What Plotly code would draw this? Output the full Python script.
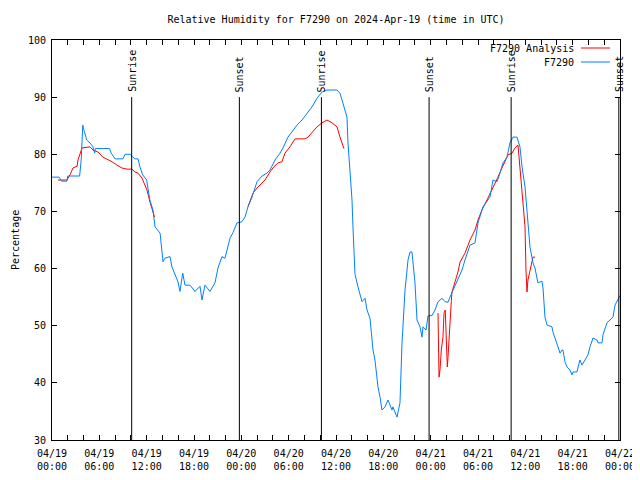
import pandas as pd
import plotly.graph_objects as go

START = pd.Timestamp("2024-04-19 00:00")

# Observed station series (hours since 04/19 00:00 UTC, relative humidity %)
obs_hours = [0.0, 0.9, 1.2, 1.9, 2.0, 3.5, 3.7, 3.9, 4.1, 4.4, 4.8, 5.2, 5.4, 5.5, 7.3, 7.5, 8.0, 9.0,
             9.25, 9.9, 10.2, 10.5, 10.9, 11.15, 11.5, 12.0, 12.2, 12.4, 12.8, 13.06, 13.7, 13.94, 14.07,
             14.3, 14.96, 15.2, 15.6, 15.97, 16.22, 16.57, 16.86, 17.49, 18.13, 18.76, 19.01, 19.39,
             20.03, 20.66, 21.04, 21.55, 21.93, 22.18, 22.56, 22.94, 23.45, 23.83, 24.08, 24.46, 24.84,
             25.35, 25.73, 25.99, 26.62, 27.25, 27.63, 28.27, 28.9, 29.28, 29.91, 30.55, 31.06, 31.69,
             32.32, 32.96, 33.59, 34.22, 34.86, 36.13, 36.51, 36.89, 37.39, 37.52, 37.77, 38.03, 38.15,
             38.41, 38.79, 39.3, 39.68, 39.93, 40.31, 40.56, 40.69, 40.94, 41.2, 41.32, 41.58, 41.83,
             42.21, 42.59, 43.1, 43.22, 43.73, 44.11, 44.37, 44.75, 45.13, 45.38, 45.63, 45.76, 46.01,
             46.27, 46.65, 46.9, 47.03, 47.41, 47.66, 48.17, 48.55, 48.93, 49.44, 49.82, 50.2, 50.45,
             50.83, 51.34, 51.97, 52.35, 52.99, 53.62, 54.0, 54.63, 55.52, 55.9, 56.41, 56.79, 57.17,
             57.68, 58.05, 58.44, 58.94, 59.32, 59.58, 59.96, 60.21, 60.59, 60.97, 61.22, 61.6, 62.11,
             62.24, 62.49, 62.75, 63.38, 63.5, 64.01, 64.14, 64.39, 64.64, 64.77, 65.02, 65.28, 65.66,
             65.91, 66.04, 66.54, 66.92, 67.18, 67.56, 67.94, 68.2, 68.58, 69.08, 69.21, 69.72, 69.84,
             70.35, 70.73, 71.11, 71.37, 71.75, 72.0]
obs_values = [76.0, 76.0, 75.3, 75.3, 76.2, 76.2, 79.0, 85.1, 84.0, 82.5, 82.0, 81.3, 80.2, 81.0, 81.0, 80.2, 79.2, 79.2,
              80.0, 80.0, 79.6, 79.2, 79.2, 77.8, 76.4, 75.5, 73.75, 72.0, 70.25, 67.3, 66.2, 63.25, 61.2,
              61.8, 62.1, 60.3, 58.9, 57.7, 56.0, 59.2, 57.1, 57.1, 56.0, 56.9, 54.5, 57.1,
              56.0, 57.5, 60.1, 62.1, 61.8, 63.25, 65.3, 66.3, 68.0, 68.1, 68.2, 69.0, 70.8,
              72.5, 74.3, 75.2, 76.2, 76.7, 77.25, 79.0, 80.2, 81.1, 83.0, 84.25, 85.1, 86.0,
              87.2, 88.3, 89.8, 90.9, 91.25, 91.25, 90.7, 89.0, 86.5, 82.0, 77.25, 72.0, 67.3,
              59.0, 56.8, 54.2, 54.8, 52.75, 51.3, 47.5, 45.75, 44.0, 41.0, 39.3, 37.5, 35.25,
              35.8, 37.0, 35.25, 35.8, 34.0, 36.5, 47.0, 56.25, 61.5, 62.9, 62.9, 61.0, 57.5,
              51.0, 49.8, 48.0, 49.8, 49.25, 51.7, 51.8, 52.75, 54.2, 54.8, 54.2, 54.1, 55.0,
              56.25, 58.0, 59.75, 61.5, 64.1, 64.5, 68.0, 70.8, 72.5, 75.5, 75.2, 76.7, 78.5,
              79.5, 82.0, 83.0, 83.0, 81.3, 77.8, 74.3, 70.25, 63.75, 61.0, 60.1, 57.5, 57.8,
              56.6, 51.5, 50.1, 49.8, 48.9, 47.0, 46.3, 45.2, 45.75, 45.75, 43.7, 42.8, 42.25,
              41.4, 41.9, 41.9, 44.0, 43.1, 44.0, 44.9, 46.3, 47.85, 47.5, 47.0, 47.0, 48.4,
              50.5, 51.0, 51.5, 53.6, 54.8, 55.3]

# Analysis series (None = gap between analysis windows)
ana_hours = [0.76, 1.9, 2.28, 2.66, 3.17, 3.3, 3.8, 4.44, 4.82, 5.2, 5.83, 6.46, 6.97, 7.6, 8.24, 8.87, 9.5,
             10.14, 10.52, 10.9, 11.4, 11.79, 12.04, 12.42, 12.8, 13.0, 18.0,
             24.84, 25.48, 25.99, 26.62, 27.0, 27.63, 28.0, 28.65, 29.15, 29.53, 30.17, 30.8, 32.07,
             32.45, 33.08, 33.59, 34.22, 34.86, 35.49, 36.13, 36.51, 36.89, 37.0, 42.0,
             48.93, 49.06, 49.18, 49.35, 49.56, 49.69, 49.85, 49.98, 50.11, 50.2, 50.32, 50.45, 50.61,
             50.7, 51.04, 51.46, 51.72, 52.35, 52.99, 53.62, 54.0, 54.5, 55.14, 55.77, 56.15, 56.53,
             57.04, 57.42, 57.8, 58.31, 58.69, 59.07, 59.32, 59.7, 59.96, 60.08, 60.21, 60.33, 60.84,
             60.97, 61.22]
ana_values = [75.5, 75.5, 76.4, 77.6, 77.9, 79.0, 81.1, 81.3, 81.3, 80.75, 80.4, 79.5, 79.2, 78.7, 78.1, 77.6, 77.4,
              77.4, 76.9, 76.7, 75.85, 74.6, 73.75, 71.65, 69.7, 69.0, None,
              70.8, 73.2, 74.1, 75.0, 75.5, 76.9, 77.6, 78.5, 78.7, 80.2, 81.3, 82.7, 82.7,
              83.0, 83.9, 84.8, 85.5, 86.0, 85.5, 84.8, 83.0, 81.3, 81.0, None,
              52.2, 41.0, 42.25, 45.75, 48.0, 52.2, 52.75, 47.5, 42.8, 44.5, 47.5, 52.2, 54.2,
              55.9, 57.5, 59.4, 61.1, 62.7, 65.0, 66.75, 68.5, 70.25, 72.0, 73.75, 75.0, 76.0,
              77.6, 78.7, 79.9, 80.2, 81.1, 81.6, 77.25, 71.5, 67.3, 59.75, 55.9, 58.0, 61.0,
              62.0, 62.0]

# Sun events (hours since start)
sun_labels = ["Sunrise", "Sunset", "Sunrise", "Sunset", "Sunrise", "Sunset"]
sun_hours = [10.1, 23.75, 34.15, 47.8, 58.2, 71.85]

# X ticks every 2 h, labelled every 6 h
tick_hours = list(range(0, 73, 2))
label_every = 6

Y_MIN, Y_MAX = 30, 100
Y_TICKS = list(range(30, 101, 10))
SUN_LINE_TOP = 90.0

FONT = "DejaVu Sans Mono"
RED = "#ff0000"
BLUE = "#0080ff"

# The page body adds an 8px offset; size the figure so the plot lands where the reference has it
OFF = 8
FIG_W, FIG_H = 640 - OFF, 480 - OFF
W0, W1, H0, H1 = 52, 620, 40, 440  # plot area in window pixels


def to_time(h):
    return START + pd.to_timedelta(h, unit="h")


obs_x = [to_time(h) for h in obs_hours]
ana_x = [to_time(h) for h in ana_hours]

tickvals = [to_time(h) for h in tick_hours]
ticktext = [to_time(h).strftime("%m/%d<br>%H:%M") if h % label_every == 0 else "" for h in tick_hours]

fig = go.Figure()
fig.add_trace(go.Scatter(x=ana_x, y=ana_values, mode="lines", name="F7290 Analysis",
                         line=dict(color=RED, width=1), connectgaps=False))
fig.add_trace(go.Scatter(x=obs_x, y=obs_values, mode="lines", name="F7290",
                         line=dict(color=BLUE, width=1)))

for lbl, h in zip(sun_labels, sun_hours):
    t = to_time(h)
    fig.add_shape(type="line", x0=t, x1=t, y0=Y_MIN, y1=SUN_LINE_TOP, xref="x", yref="y",
                  line=dict(color="black", width=1))
    fig.add_annotation(x=t, y=SUN_LINE_TOP, xref="x", yref="y", text=lbl, textangle=-90,
                       showarrow=False, xanchor="center", yanchor="bottom", yshift=3,
                       font=dict(family=FONT, size=10, color="black"))


def px(xp):
    return (xp - W0) / (W1 - W0)


def py(yp):
    return (H1 - yp) / (H1 - H0)


# gnuplot-style legend (text right, sample line at right)
legend_rows = [("F7290 Analysis", RED, 48), ("F7290", BLUE, 62)]
for text, col, ypix in legend_rows:
    fig.add_annotation(x=px(576), y=py(ypix), xref="paper", yref="paper", text=text,
                       showarrow=False, xanchor="right", yanchor="middle",
                       font=dict(family=FONT, size=10, color="black"))
    fig.add_shape(type="line", x0=px(581), x1=px(610), y0=py(ypix), y1=py(ypix),
                  xref="paper", yref="paper", line=dict(color=col, width=1))

fig.add_annotation(x=px(15), y=0.5, xref="paper", yref="paper", text="Percentage",
                   textangle=-90, showarrow=False, xanchor="center", yanchor="middle",
                   font=dict(family=FONT, size=10, color="black"))

fig.update_layout(
    width=FIG_W, height=FIG_H,
    margin=dict(l=W0 - OFF, r=640 - W1, t=H0 - OFF, b=480 - H1, pad=0, autoexpand=False),
    paper_bgcolor="white", plot_bgcolor="white",
    showlegend=False,
    font=dict(family=FONT, size=10, color="black"),
    title=dict(text="Relative Humidity for F7290 on 2024-Apr-19 (time in UTC)",
               x=0.5, xref="paper", xanchor="center", y=1 - (19 - OFF) / FIG_H, yref="container",
               yanchor="middle", font=dict(family=FONT, size=10, color="black")),
)
fig.update_xaxes(range=[to_time(0), to_time(72)], tickmode="array", tickvals=tickvals,
                 ticktext=ticktext, ticks="inside", ticklen=5, tickcolor="black",
                 showline=True, linecolor="black", linewidth=1, mirror="ticks",
                 showgrid=False, zeroline=False, tickangle=0, ticklabelstandoff=4,
                 tickfont=dict(family=FONT, size=10, color="black"))
fig.update_yaxes(range=[Y_MIN, Y_MAX], tickmode="array", tickvals=Y_TICKS,
                 ticks="inside", ticklen=5, tickcolor="black",
                 showline=True, linecolor="black", linewidth=1, mirror="ticks",
                 showgrid=False, zeroline=False, ticklabelstandoff=3,
                 tickfont=dict(family=FONT, size=10, color="black"))

fig.write_html("out.html")
